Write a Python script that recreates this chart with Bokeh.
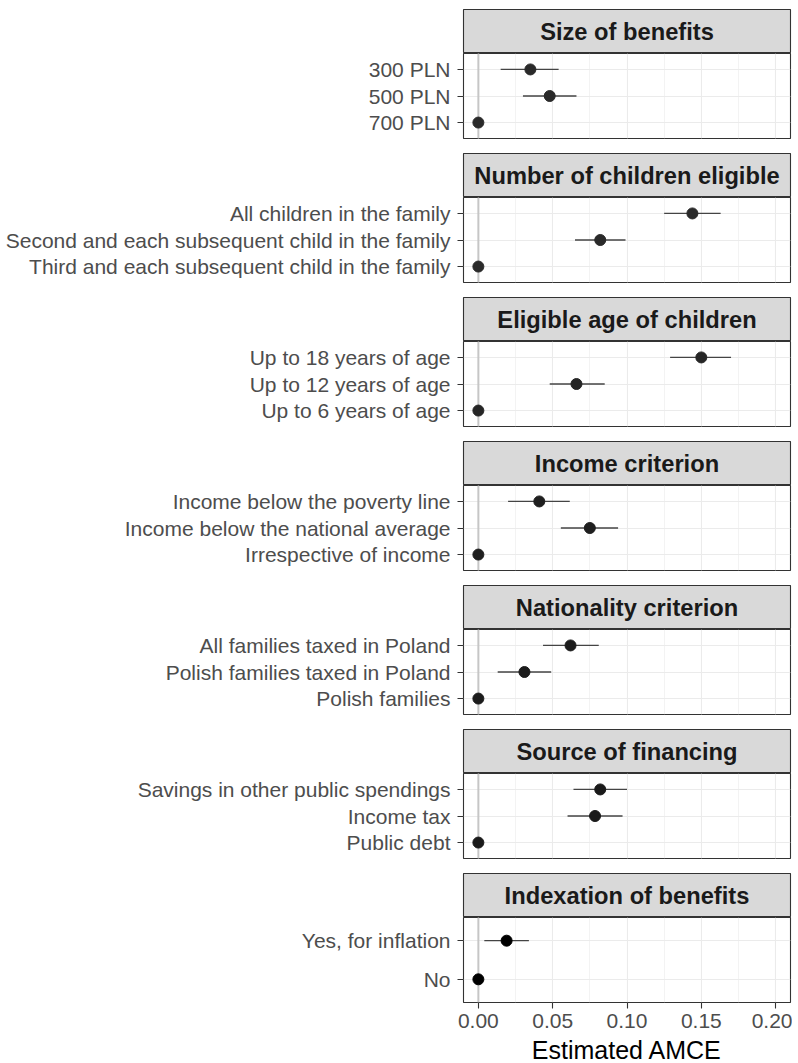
import numpy as np
from bokeh.plotting import figure
from bokeh.layouts import column
from bokeh.models import (Range1d, FactorRange, FixedTicker, Grid, Span,
                          LinearAxis, ColumnDataSource, NumeralTickFormatter)
from bokeh.core.properties import value
from bokeh.embed import file_html
from bokeh.resources import INLINE

# ---------------- data ----------------
panel_titles = ["Size of benefits", "Number of children eligible",
                "Eligible age of children", "Income criterion",
                "Nationality criterion", "Source of financing",
                "Indexation of benefits"]

levels_size = ["300 PLN", "500 PLN", "700 PLN"]
est_size = [0.035, 0.048, 0.0]
lo_size = [0.015, 0.030, np.nan]
hi_size = [0.054, 0.066, np.nan]

levels_children = ["All children in the family",
                   "Second and each subsequent child in the family",
                   "Third and each subsequent child in the family"]
est_children = [0.144, 0.082, 0.0]
lo_children = [0.125, 0.065, np.nan]
hi_children = [0.163, 0.099, np.nan]

levels_age = ["Up to 18 years of age", "Up to 12 years of age", "Up to 6 years of age"]
est_age = [0.150, 0.066, 0.0]
lo_age = [0.129, 0.048, np.nan]
hi_age = [0.170, 0.085, np.nan]

levels_income = ["Income below the poverty line", "Income below the national average",
                 "Irrespective of income"]
est_income = [0.041, 0.075, 0.0]
lo_income = [0.020, 0.0555, np.nan]
hi_income = [0.0615, 0.094, np.nan]

levels_nation = ["All families taxed in Poland", "Polish families taxed in Poland",
                 "Polish families"]
est_nation = [0.062, 0.031, 0.0]
lo_nation = [0.0435, 0.013, np.nan]
hi_nation = [0.081, 0.049, np.nan]

levels_finance = ["Savings in other public spendings", "Income tax", "Public debt"]
est_finance = [0.082, 0.0785, 0.0]
lo_finance = [0.064, 0.060, np.nan]
hi_finance = [0.100, 0.097, np.nan]

levels_index = ["Yes, for inflation", "No"]
est_index = [0.019, 0.0]
lo_index = [0.004, np.nan]
hi_index = [0.034, np.nan]

x_ticks = [0.0, 0.05, 0.10, 0.15, 0.20]
x_minor = [0.025, 0.075, 0.125, 0.175]
x_limits = (-0.01, 0.21)
x_title = "Estimated AMCE"

panels = [
    (levels_size, est_size, lo_size, hi_size),
    (levels_children, est_children, lo_children, hi_children),
    (levels_age, est_age, lo_age, hi_age),
    (levels_income, est_income, lo_income, hi_income),
    (levels_nation, est_nation, lo_nation, hi_nation),
    (levels_finance, est_finance, lo_finance, hi_finance),
    (levels_index, est_index, lo_index, hi_index),
]

# ---------------- style ----------------
LEFT = 463
RIGHT = 2
W = LEFT + 327 + RIGHT
STRIP_H = 44
PANEL_H = 85
GAP = 15
FIRST_TOP = 9
LAST_BOTTOM = 33
TITLE_H = 28
FONT = "Liberation Sans"
point_colors = ["#2a2a2a", "#2a2a2a", "#262626", "#1f1f1f", "#1c1c1c", "#1a1a1a", "#000000"]

x_range = Range1d(*x_limits)


def make_strip(title, top):
    s = figure(width=W, height=STRIP_H + top, x_range=Range1d(0, 1), y_range=Range1d(0, 1),
               x_axis_type=None, y_axis_type=None, toolbar_location=None,
               output_backend="svg", min_border_left=LEFT, min_border_right=RIGHT,
               min_border_top=top, min_border_bottom=0)
    s.background_fill_color = "#d9d9d9"
    s.outline_line_color = "#333333"
    s.outline_line_width = 1.1
    s.text(x=[0.5], y=[0.5], text=[title], text_align="center", text_baseline="middle",
           text_font=value(FONT), text_font_style="bold", text_font_size="23.7px",
           text_color="#1a1a1a")
    return s


def make_panel(levels, est, lo, hi, color, last):
    bottom = LAST_BOTTOM if last else GAP
    yr = FactorRange(factors=levels[::-1], range_padding=0.1, range_padding_units="absolute")
    p = figure(width=W, height=PANEL_H + bottom, x_range=x_range, y_range=yr,
               x_axis_type=None, toolbar_location=None, output_backend="svg",
               min_border_left=LEFT, min_border_right=RIGHT, min_border_top=0,
               min_border_bottom=bottom)
    p.background_fill_color = "white"
    p.outline_line_color = "#333333"
    p.outline_line_width = 1.1

    ticker = FixedTicker(ticks=x_ticks, minor_ticks=x_minor)
    p.add_layout(Grid(dimension=0, ticker=ticker, grid_line_color="#ebebeb",
                      grid_line_width=1.1, minor_grid_line_color="#ebebeb",
                      minor_grid_line_width=0.6))
    p.ygrid.grid_line_color = "#ebebeb"
    p.ygrid.grid_line_width = 1.1

    p.add_layout(Span(location=0, dimension="height", line_color="#c6c6c6",
                      line_width=2, level="underlay"))

    src = ColumnDataSource(dict(level=levels, est=np.array(est, dtype=float),
                                lo=np.array(lo, dtype=float), hi=np.array(hi, dtype=float)))
    p.segment(x0="lo", y0="level", x1="hi", y1="level", source=src,
              line_color="#444444", line_width=1.3)
    p.scatter(x="est", y="level", source=src, size=11, fill_color=color, line_color=color)

    ya = p.yaxis[0]
    ya.axis_line_color = None
    ya.major_tick_in = 0
    ya.major_tick_out = 6
    ya.major_tick_line_color = "#333333"
    ya.major_tick_line_width = 1.1
    ya.major_label_standoff = 7
    ya.major_label_text_font = FONT
    ya.major_label_text_font_size = "21px"
    ya.major_label_text_color = "#4d4d4d"

    if last:
        xa = LinearAxis(ticker=FixedTicker(ticks=x_ticks),
                        formatter=NumeralTickFormatter(format="0.00"))
        xa.axis_line_color = None
        xa.major_tick_in = 0
        xa.major_tick_out = 6
        xa.minor_tick_out = 0
        xa.minor_tick_in = 0
        xa.major_tick_line_color = "#333333"
        xa.major_tick_line_width = 1.1
        xa.major_label_standoff = 5
        xa.major_label_text_font = FONT
        xa.major_label_text_font_size = "21px"
        xa.major_label_text_color = "#4d4d4d"
        p.add_layout(xa, "below")
    return p


def make_axis_title(text):
    t = figure(width=W, height=TITLE_H, x_range=Range1d(0, 1), y_range=Range1d(0, TITLE_H),
               x_axis_type=None, y_axis_type=None, toolbar_location=None,
               output_backend="svg", min_border_left=LEFT, min_border_right=RIGHT,
               min_border_top=0, min_border_bottom=0)
    t.outline_line_color = None
    t.background_fill_color = None
    t.text(x=[0.5], y=[TITLE_H / 2], text=[text], text_align="center", text_baseline="middle",
           text_font=value(FONT), text_font_size="25px", text_color="#000000")
    return t


children = []
for i, (title, data) in enumerate(zip(panel_titles, panels)):
    children.append(make_strip(title, FIRST_TOP if i == 0 else 0))
    children.append(make_panel(*data, point_colors[i], i == len(panels) - 1))
children.append(make_axis_title(x_title))

layout = column(children, spacing=0)

open("out.html", "w").write(file_html(layout, INLINE))
